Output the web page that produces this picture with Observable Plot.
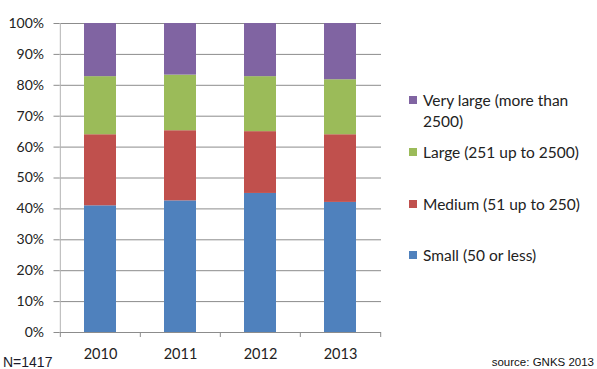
<!DOCTYPE html>
<html>
<head>
<meta charset="utf-8">
<script src="https://cdn.jsdelivr.net/npm/d3@7"></script>
<script src="https://cdn.jsdelivr.net/npm/@observablehq/plot@0.6"></script>
<style>
  html, body { margin: 0; padding: 0; background: #fff; }
  #wrap { position: relative; width: 597px; height: 369px; overflow: hidden; font-family: Lato, "Open Sans", sans-serif; }
  #legend { position: absolute; left: 409px; top: 0; width: 188px; font-size: 15.5px; color: #222; }
  .item { position: absolute; left: 0; white-space: nowrap; line-height: 21px; }
  .sw { position: absolute; left: 0; top: 6px; width: 8px; height: 8px; }
  .lbl { position: absolute; left: 14px; top: 0; }
  #n { position: absolute; left: 3px; top: 354px; font: 14px "Liberation Sans", Arial, sans-serif; color: #1a1a2a; }
  #src { position: absolute; right: 3px; top: 356px; font: 11.5px "Liberation Sans", Arial, sans-serif; color: #111; }
</style>
</head>
<body>
<div id="wrap"></div>
<script>
const years = ["2010", "2011", "2012", "2013"];
const seriesNames = ["Small (50 or less)", "Medium (51 up to 250)", "Large (251 up to 2500)", "Very large (more than 2500)"];
const legendLines = [["Very large (more than", "2500)"], ["Large (251 up to 2500)"], ["Medium (51 up to 250)"], ["Small (50 or less)"]];
const colors = ["#4F81BD", "#C0504D", "#9BBB59", "#8064A2"];
const small = [41.0, 42.6, 45.0, 42.1];
const medium = [23.0, 22.7, 20.0, 21.9];
const large = [18.8, 18.0, 17.8, 17.8];
const veryLarge = [17.2, 16.7, 17.2, 18.2];
const yTicks = [0, 0.1, 0.2, 0.3, 0.4, 0.5, 0.6, 0.7, 0.8, 0.9, 1.0];

const seriesValues = [small, medium, large, veryLarge];
const data = [];
seriesNames.forEach((s, si) => years.forEach((y, yi) => data.push({year: y, series: s, value: seriesValues[si][yi] / 100})));

const W = 597, H = 369;
const mL = 59.5, mR = 216, mT = 23, mB = 37;
const step = (W - mL - mR) / years.length;

const chart = Plot.plot({
  width: W, height: H,
  marginLeft: mL, marginRight: mR, marginTop: mT, marginBottom: mB,
  style: {fontFamily: "Lato, 'Open Sans', sans-serif", fontSize: "13.5px", color: "#222", background: "#fff"},
  x: {domain: years, paddingInner: 0.6, paddingOuter: 0.3, label: null},
  y: {domain: [0, 1], label: null},
  color: {domain: seriesNames, range: colors},
  marks: [
    Plot.ruleY(yTicks, {stroke: "#8c8c8c", strokeWidth: 1}),
    Plot.axisY({ticks: yTicks, tickFormat: d3.format(".0%"), tickSize: 6, tickPadding: 10, stroke: "#8c8c8c", fontSize: 14, label: null}),
    Plot.barY(data, {x: "year", y: "value", fill: "series", order: seriesNames}),
    Plot.ruleX([years[0]], {x: d => d, dx: -step / 2, y1: 0, y2: 1, stroke: "#b4b4b4"}),
    Plot.ruleX(years, {x: d => d, dx: -step / 2, y1: 0, y2: 0, insetBottom: -5, stroke: "#8c8c8c"}),
    Plot.ruleX([years[years.length - 1]], {x: d => d, dx: step / 2, y1: 0, y2: 0, insetBottom: -5, stroke: "#8c8c8c"}),
    Plot.axisX({tickSize: 0, tickPadding: 16, fontSize: 14.5, label: null})
  ]
});
const wrap = document.getElementById("wrap");
wrap.appendChild(chart);

const legend = document.createElement("div");
legend.id = "legend";
const legendTops = [90, 142, 194, 245];
const revColors = colors.slice().reverse();
legendLines.forEach((lines, i) => {
  const item = document.createElement("div");
  item.className = "item";
  item.style.top = legendTops[i] + "px";
  const sw = document.createElement("div");
  sw.className = "sw";
  sw.style.background = revColors[i];
  item.appendChild(sw);
  const lbl = document.createElement("div");
  lbl.className = "lbl";
  lbl.innerHTML = lines.join("<br>");
  item.appendChild(lbl);
  legend.appendChild(item);
});
wrap.appendChild(legend);

const n = document.createElement("div");
n.id = "n"; n.textContent = "N=1417";
wrap.appendChild(n);
const src = document.createElement("div");
src.id = "src"; src.textContent = "source: GNKS 2013";
wrap.appendChild(src);
</script>
</body>
</html>
